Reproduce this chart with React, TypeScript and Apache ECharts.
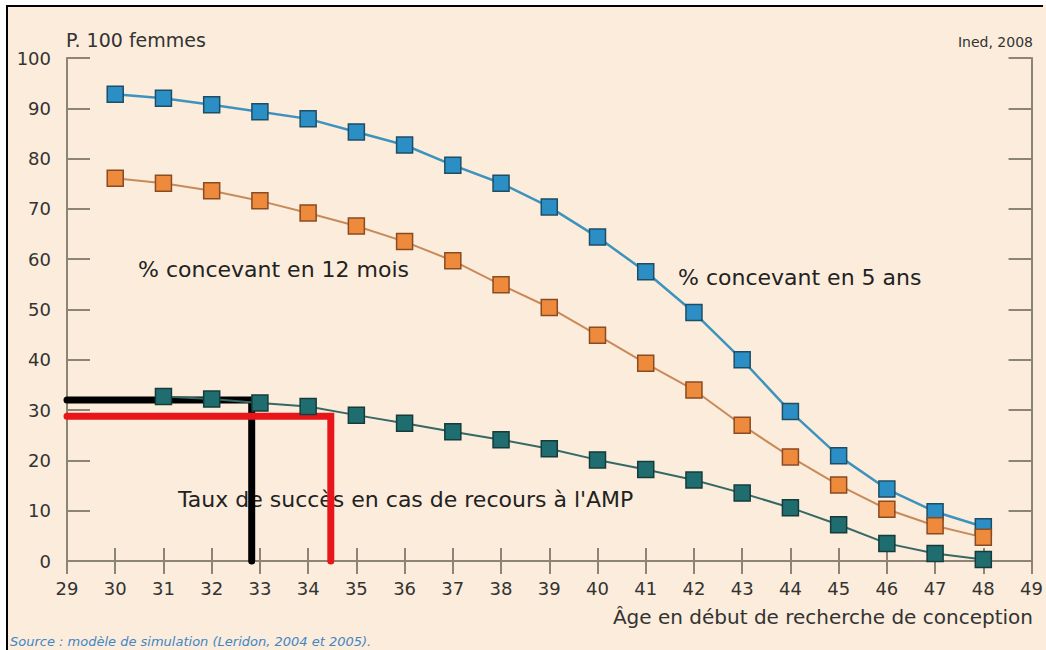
import React, { useEffect, useRef } from "react";
import * as echarts from "echarts";

const ages = [30, 31, 32, 33, 34, 35, 36, 37, 38, 39, 40, 41, 42, 43, 44, 45, 46, 47, 48];
const pct5ans = [92.8, 92.0, 90.7, 89.3, 87.9, 85.3, 82.7, 78.7, 75.1, 70.4, 64.4, 57.5, 49.4, 40.0, 29.7, 20.9, 14.3, 9.8, 6.8];
const pct12mois = [76.1, 75.1, 73.6, 71.6, 69.2, 66.6, 63.5, 59.7, 54.9, 50.4, 44.9, 39.3, 34.0, 27.0, 20.7, 15.1, 10.3, 7.0, 4.7];
const tauxAMP: (number | null)[] = [null, 32.7, 32.2, 31.4, 30.7, 29.0, 27.4, 25.7, 24.1, 22.3, 20.1, 18.2, 16.1, 13.5, 10.6, 7.2, 3.5, 1.5, 0.3];

const blackGuide = [[29, 32.0], [32.83, 32.0], [32.83, 0]];
const redGuide = [[29, 28.8], [34.47, 28.8], [34.47, 0]];

const FONT = "DejaVu Sans";
const AXIS = "#8d8574";
const CREAM = "#fcecdb";

export default function App() {
  const ref = useRef<HTMLDivElement>(null);
  useEffect(() => {
    document.body.style.margin = "0";
    const chart = echarts.init(ref.current!, null, { renderer: "svg" });
    const pair = (vals: (number | null)[]) => ages.map((a, i) => [a, vals[i]]);
    const axisCommon = {
      type: "value" as const,
      axisLine: { show: true, lineStyle: { color: AXIS, width: 2 } },
      splitLine: { show: false },
    };
    chart.setOption({
      animation: false,
      backgroundColor: CREAM,
      textStyle: { fontFamily: FONT },
      grid: { left: 67, top: 58, right: 13, bottom: 89, containLabel: false },
      xAxis: [
        {
          ...axisCommon,
          position: "bottom",
          min: 29,
          max: 49,
          interval: 1,
          axisTick: { show: true, inside: true, length: 13, lineStyle: { color: AXIS, width: 2 } },
          axisLabel: { show: true, margin: 18, fontSize: 18, color: "#333", fontFamily: FONT, showMinLabel: true, showMaxLabel: true },
        },
        {
          ...axisCommon,
          position: "top",
          min: 29,
          max: 49,
          interval: 1,
          axisTick: { show: true, inside: true, length: 13, lineStyle: { color: AXIS, width: 2 } },
          axisLabel: { show: false },
        },
      ],
      yAxis: [
        {
          ...axisCommon,
          position: "left",
          min: 0,
          max: 100,
          interval: 10,
          axisTick: { show: true, inside: true, length: 23, lineStyle: { color: AXIS, width: 2 } },
          axisLabel: { show: true, margin: 16, fontSize: 18, color: "#333", fontFamily: FONT, showMinLabel: true, showMaxLabel: true },
        },
        {
          ...axisCommon,
          position: "right",
          min: 0,
          max: 100,
          interval: 10,
          axisTick: { show: true, inside: true, length: 23, lineStyle: { color: AXIS, width: 2 } },
          axisLabel: { show: false },
        },
      ],
      series: [
        {
          type: "line",
          name: "guide-black",
          data: blackGuide,
          symbol: "none",
          clip: false,
          z: 1,
          lineStyle: { color: "#000", width: 7, cap: "round", join: "miter" },
        },
        {
          type: "line",
          name: "guide-red",
          data: redGuide,
          symbol: "none",
          clip: false,
          z: 1,
          lineStyle: { color: "#e8161b", width: 7, cap: "round", join: "miter" },
        },
        {
          type: "line",
          name: "% concevant en 5 ans",
          data: pair(pct5ans),
          symbol: "rect",
          symbolSize: 16,
          z: 3,
          lineStyle: { color: "#3d93bd", width: 2.5 },
          itemStyle: { color: "#2b8fc6", borderColor: "#1d4e66", borderWidth: 1.5 },
        },
        {
          type: "line",
          name: "% concevant en 12 mois",
          data: pair(pct12mois),
          symbol: "rect",
          symbolSize: 16,
          z: 3,
          lineStyle: { color: "#c98a5a", width: 2 },
          itemStyle: { color: "#ee8a3c", borderColor: "#8a4a22", borderWidth: 1.5 },
        },
        {
          type: "line",
          name: "Taux de succès en cas de recours à l'AMP",
          data: pair(tauxAMP),
          symbol: "rect",
          symbolSize: 16,
          z: 3,
          lineStyle: { color: "#356866", width: 2 },
          itemStyle: { color: "#1f6d6f", borderColor: "#143c3c", borderWidth: 1.5 },
        },
      ],
      graphic: [
        { type: "rect", shape: { x: 0, y: 0, width: 1046, height: 5 }, style: { fill: "#fff" }, z: 10 },
        { type: "rect", shape: { x: 0, y: 0, width: 6, height: 650 }, style: { fill: "#fff" }, z: 10 },
        { type: "rect", shape: { x: 1043, y: 0, width: 3, height: 5 }, style: { fill: "#fff" }, z: 10 },
        { type: "line", shape: { x1: 6, y1: 6, x2: 1043, y2: 6 }, style: { stroke: "#000", lineWidth: 2 }, z: 11 },
        { type: "line", shape: { x1: 7, y1: 5, x2: 7, y2: 650 }, style: { stroke: "#000", lineWidth: 2 }, z: 11 },
        { type: "text", x: 66, y: 40, style: { text: "P. 100 femmes", font: `19px '${FONT}'`, fill: "#333", textVerticalAlign: "middle" } },
        { type: "text", x: 1033, y: 42, style: { text: "Ined, 2008", font: `14px '${FONT}'`, fill: "#333", textAlign: "right", textVerticalAlign: "middle" } },
        { type: "text", x: 138, y: 269, style: { text: "% concevant en 12 mois", font: `22px '${FONT}'`, fill: "#222", textVerticalAlign: "middle" } },
        { type: "text", x: 678, y: 277, style: { text: "% concevant en 5 ans", font: `22px '${FONT}'`, fill: "#222", textVerticalAlign: "middle" } },
        { type: "text", x: 178, y: 499, style: { text: "Taux de succès en cas de recours à l'AMP", font: `22px '${FONT}'`, fill: "#222", textVerticalAlign: "middle" } },
        { type: "text", x: 1033, y: 617, style: { text: "Âge en début de recherche de conception", font: `20px '${FONT}'`, fill: "#333", textAlign: "right", textVerticalAlign: "middle" } },
        { type: "text", x: 10, y: 641, style: { text: "Source : modèle de simulation (Leridon, 2004 et 2005).", font: `italic 13px '${FONT}'`, fill: "#3f86c4", textVerticalAlign: "middle" } },
      ],
    });
    return () => chart.dispose();
  }, []);
  return <div ref={ref} style={{ width: 1046, height: 650 }} />;
}
